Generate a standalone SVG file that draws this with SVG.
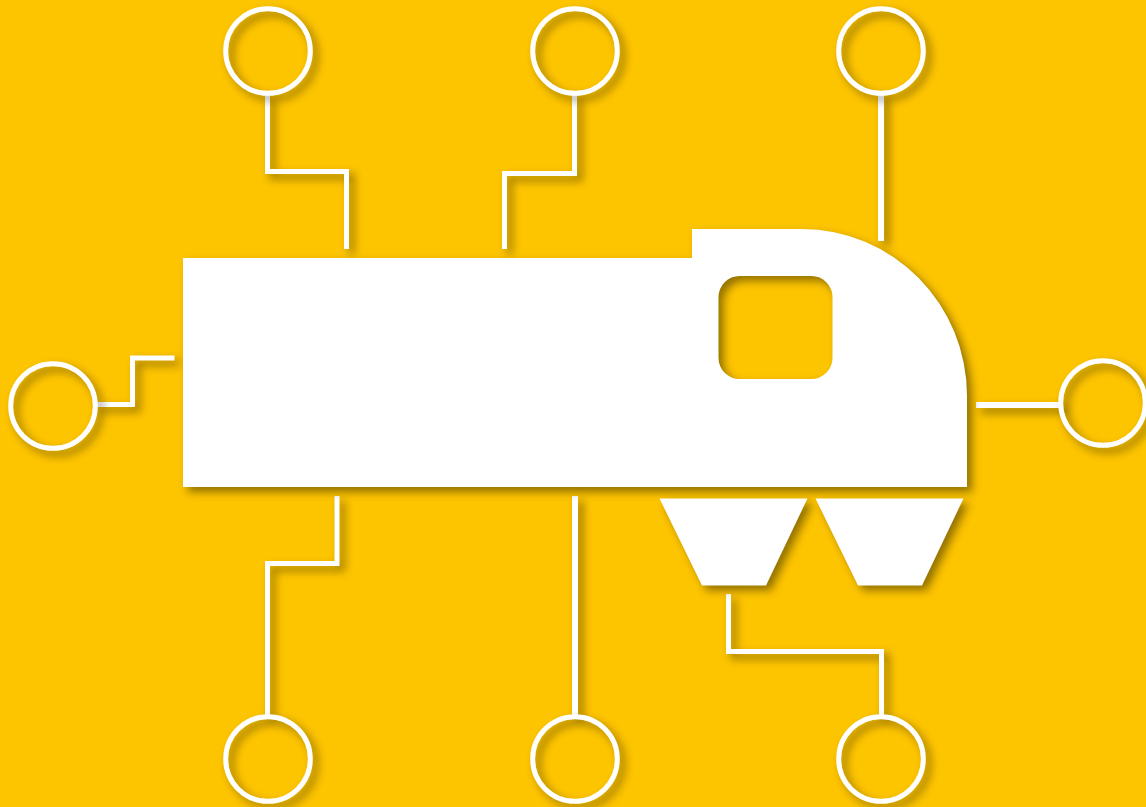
<svg xmlns="http://www.w3.org/2000/svg" width="1146" height="807" viewBox="0 0 1146 807">
<defs>
<filter id="sh" filterUnits="userSpaceOnUse" x="0" y="0" width="1146" height="807" color-interpolation-filters="sRGB"><feDropShadow dx="5" dy="5" stdDeviation="4" flood-color="#000" flood-opacity="0.42"/></filter>
</defs>
<style>
.w{fill:#fff;stroke:none;filter:url(#sh)}
.c{fill:none;stroke:#fff;stroke-width:5;filter:url(#sh)}
.l{fill:none;stroke:#fff;stroke-width:5;filter:url(#sh)}
.t{stroke-width:6}
</style>
<rect width="1146" height="807" fill="#fdc400"/>
<g id="connectors">
<path class="l" d="M267.500 95V171.500H346.500V249"/>
<path class="l" d="M574.500 95V173.500H504.500V249"/>
<path class="l t" d="M881 95V241"/>
<path class="l" d="M97 404.500H132.500V358H174.500"/>
<path class="l t" d="M976 405H1060"/>
<path class="l" d="M337 496V563.500H267.500V715"/>
<path class="l t" d="M575 496V715"/>
<path class="l" d="M728.500 594V651.500H881.500V715"/>
</g>
<g id="body"><path class="w" fill-rule="evenodd" d="M183 258H692V229H802A165 167 0 0 1 967 396V487H183ZM739.500 276A21 21 0 0 0 718.500 297V358A21 21 0 0 0 739.500 379H811.500A21 21 0 0 0 832.500 358V297A21 21 0 0 0 811.500 276Z"/></g>
<g id="hopper-left"><path class="w" d="M659.500 498.500H807.500L766 585.500H702Z"/></g>
<g id="hopper-right"><path class="w" d="M815.500 498.500H963.500L922 585.500H858Z"/></g>
<g id="port-top-1"><circle class="c" cx="268" cy="51" r="42.300"/></g>
<g id="port-top-2"><circle class="c" cx="575" cy="51" r="42.300"/></g>
<g id="port-top-3"><circle class="c" cx="881" cy="51" r="42.300"/></g>
<g id="port-left"><circle class="c" cx="53" cy="406" r="42.300"/></g>
<g id="port-right"><circle class="c" cx="1103" cy="403" r="42.300"/></g>
<g id="port-bottom-1"><circle class="c" cx="268" cy="759" r="42.300"/></g>
<g id="port-bottom-2"><circle class="c" cx="575" cy="759" r="42.300"/></g>
<g id="port-bottom-3"><circle class="c" cx="881" cy="759" r="42.300"/></g>
</svg>
